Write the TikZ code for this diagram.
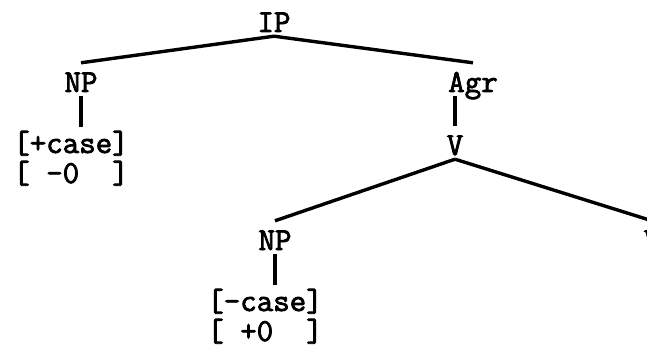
\documentclass[tikz,border=0pt]{standalone}
\usepackage{fontspec}
\newfontfamily\treefont{Latin Modern Mono}[FakeBold=2.5]
\usetikzlibrary{positioning, calc}

\begin{document}
\begin{tikzpicture}[
  x=1pt, y=-1pt,
  cat/.style={font=\treefont\fontsize{32}{34}\selectfont, inner sep=0pt, text height=29pt, text depth=4pt, anchor=base},
  feat/.style={cat, text height=26pt},
  branch/.style={line width=3.4pt},
]
  \useasboundingbox (0,0) rectangle (647,347);

  % Tree nodes
  \node[cat] (ip) at (274,32) {IP};
  \node[cat] (np1) at (81,92) {NP};
  \node[cat] (agr) at (473,92) {Agr};
  \node[cat] (v1) at (455,155) {V};
  \node[cat] (np2) at (275,250) {NP};
  \node[cat] (v2) at (652,250) {V};

  % Feature matrices
  \node[feat] (case1) at (71,153) {[+case]};
  \node[feat] (theta1) at (71,183) {[\ -0\ \ ]};
  \node[feat] (case2) at (265,311) {[-case]};
  \node[feat] (theta2) at (265,341) {[\ +0\ \ ]};

  % Branches
  \draw[branch] (ip.south) -- (np1.north);
  \draw[branch] (ip.south) -- (agr.north);
  \draw[branch] (np1.south) -- (np1.south |- case1.north);
  \draw[branch] (v1.north |- agr.south) -- (v1.north);
  \draw[branch] (v1.south) -- (np2.north);
  \draw[branch] (v1.south) -- (v2.north);
  \draw[branch] (np2.south) -- (np2.south |- case2.north);
\end{tikzpicture}
\end{document}
